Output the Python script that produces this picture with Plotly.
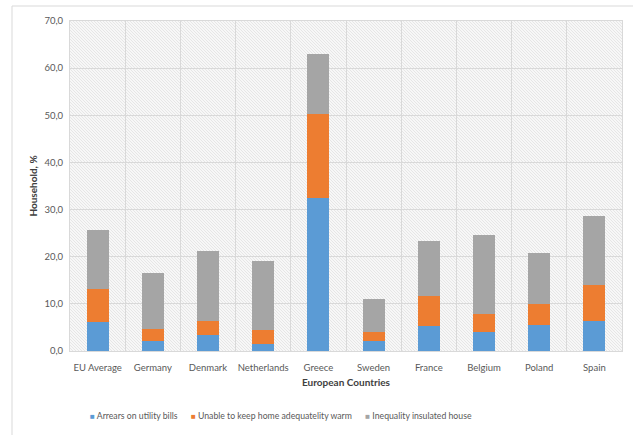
import base64
import plotly.graph_objects as go

countries = ["EU Average", "Germany", "Denmark", "Netherlands", "Greece",
             "Sweden", "France", "Belgium", "Poland", "Spain"]
arrears = [6.1, 2.1, 3.5, 1.4, 32.4, 2.1, 5.4, 4.0, 5.6, 6.4]
unable_warm = [7.0, 2.6, 2.9, 3.1, 17.9, 2.0, 6.3, 3.9, 4.3, 7.5]
insulated = [12.6, 11.9, 14.9, 14.6, 12.6, 7.0, 11.6, 16.8, 10.8, 14.7]
series_names = ["Arrears on utility bills", "Unable to keep home adequatelity warm",
                "Inequality insulated house"]
colors = ["#5B9BD5", "#ED7D31", "#A5A5A5"]
y_ticks = [0, 10, 20, 30, 40, 50, 60, 70]

FONT = "Lato, Open Sans, sans-serif"
PW, PH = 552, 330  # plot area size in px

fig = go.Figure()
for name, vals, col in zip(series_names, [arrears, unable_warm, insulated], colors):
    fig.add_trace(go.Bar(x=countries, y=vals, name=name, marker_color=col,
                         marker_line_width=0))

# diagonal hatch background for the plot area
svg = ('<svg xmlns="http://www.w3.org/2000/svg" width="552" height="330">'
       '<defs><pattern id="p" width="3" height="3" patternUnits="userSpaceOnUse">'
       '<rect width="3" height="3" fill="#f7f7f7"/>'
       '<path d="M0,0 L3,3" stroke="#e2e2e2" stroke-width="0.8"/></pattern></defs>'
       '<rect width="552" height="330" fill="url(#p)"/></svg>')
src = "data:image/svg+xml;base64," + base64.b64encode(svg.encode()).decode()

# legend built as one annotation (small square markers, tight spacing like the reference)
gap = "&nbsp;" * 6
legend_text = gap.join(
    f"<span style='color:{col};font-size:8px'>■</span> {name}"
    for name, col in zip(series_names, colors))
annotations = [dict(
    xref="paper", yref="paper", x=(88 - 70) / PW, y=-(415 - 351) / PH,
    xanchor="left", yanchor="middle", showarrow=False, text=legend_text,
    font=dict(family=FONT, size=8.7, color="#595959"))]

fig.update_layout(
    barmode="stack",
    bargap=0.6,
    width=633, height=435,
    margin=dict(l=70, r=11, t=21, b=84),
    paper_bgcolor="white",
    plot_bgcolor="rgba(0,0,0,0)",
    separators=",.",
    font=dict(family=FONT, size=10, color="#595959"),
    images=[dict(source=src, xref="paper", yref="paper", x=0, y=1, sizex=1, sizey=1,
                 sizing="stretch", layer="below", xanchor="left", yanchor="top")],
    xaxis=dict(
        tickson="boundaries", showgrid=True, gridcolor="#d9d9d9", gridwidth=1,
        ticks="", showline=True, linecolor="#d9d9d9", mirror=True, tickangle=0,
        ticklabelstandoff=8,
        tickfont=dict(size=9.5, color="#595959"),
        title=dict(text="<b>European Countries</b>", standoff=6,
                   font=dict(size=10, color="#404040")),
    ),
    yaxis=dict(
        range=[0, 70], tickvals=y_ticks, tickformat=".1f",
        showgrid=True, gridcolor="#d9d9d9", gridwidth=1,
        showline=True, linecolor="#d9d9d9", mirror=True, zeroline=False,
        ticks="", ticklen=0, ticklabelstandoff=4,
        tickfont=dict(size=9.5, color="#595959"),
        title=dict(text="<b>Household, %</b>", standoff=4,
                   font=dict(size=10, color="#404040")),
    ),
    showlegend=False,
    annotations=annotations,
    shapes=[dict(type="rect", xref="paper", yref="paper",
                 x0=-58 / PW, y0=-100 / PH, x1=1.05, y1=1 + 15 / PH,
                 line=dict(color="#d9d9d9", width=1), fillcolor="rgba(0,0,0,0)",
                 layer="below")],
)

fig.write_html("out.html")
